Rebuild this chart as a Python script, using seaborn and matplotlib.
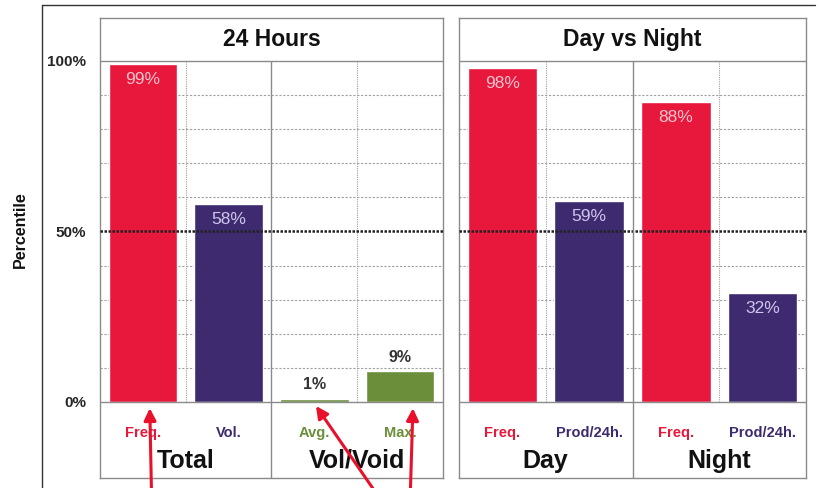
import numpy as np
import pandas as pd
import matplotlib
matplotlib.use("Agg")
import matplotlib.pyplot as plt
import seaborn as sns
from matplotlib.lines import Line2D

# data
left_title = "24 Hours"
left_cats = ["Freq.", "Vol.", "Avg.", "Max."]
left_vals = [99, 58, 1, 9]
left_groups = ["Total", "Vol/Void"]

right_title = "Day vs Night"
right_cats = ["Freq.", "Prod/24h.", "Freq. ", "Prod/24h. "]
right_vals = [98, 59, 88, 32]
right_groups = ["Day", "Night"]

RED = "#E8173C"
PURPLE = "#3E2A6E"
GREEN = "#6B8E3A"
left_colors = [RED, PURPLE, GREEN, GREEN]
right_colors = [RED, PURPLE, RED, PURPLE]

sns.set_style("white")
plt.rcParams["font.family"] = ["Liberation Sans", "DejaVu Sans"]

fig = plt.figure(figsize=(8.2, 4.88), dpi=100)

YMIN, YMAX = -22.3, 112.6
GRID = "#8a8a8a"


def draw_panel(ax, title, cats, vals, colors, groups, show_y):
    df = pd.DataFrame({"cat": cats, "val": vals})
    sns.barplot(data=df, x="cat", y="val", hue="cat", palette=colors,
                width=0.8, ax=ax, legend=False, saturation=1)
    ax.set_xlim(-0.5, 3.5)
    ax.set_ylim(YMIN, YMAX)
    ax.set_xlabel("")
    ax.set_ylabel("")
    ax.set_xticks([])
    # grid
    for g in range(10, 100, 10):
        if g == 50:
            continue
        ax.hlines(g, -0.5, 3.5, colors="#a0a0a0", linestyles=(0, (2, 1.5)),
                  linewidth=0.8, zorder=0)
    ax.hlines(50, -0.5, 3.5, colors="#222222", linestyles=(0, (1, 0.6)),
              linewidth=1.8, zorder=3)
    ax.hlines([0, 100], -0.5, 3.5, colors=GRID, linewidth=1.0, zorder=3)
    ax.vlines([0.5, 2.5], 0, 100, colors="#a0a0a0", linestyles=(0, (1, 1)),
              linewidth=0.8, zorder=0)
    ax.vlines(1.5, YMIN, 100, colors=GRID, linewidth=1.0, zorder=3)
    for s in ax.spines.values():
        s.set_color(GRID)
        s.set_linewidth(1.0)
    # title
    ax.text(1.5, 106.3, title, ha="center", va="center", fontsize=16.5,
            fontweight="bold", color="#111111")
    # values
    for i, (v, c) in enumerate(zip(vals, colors)):
        if c == GREEN:
            ax.text(i, v + 1.8, f"{v}%", ha="center", va="bottom", fontsize=11.5,
                    fontweight="bold", color="#333333")
        else:
            lc = "#F6C4CC" if c == RED else "#CFC6EE"
            ax.text(i, v - 2.3, f"{v}%", ha="center", va="top", fontsize=12.5,
                    color=lc)
    # category labels
    for i, (cat, c) in enumerate(zip(cats, colors)):
        ax.text(i, -9.2, cat.strip(), ha="center", va="center", fontsize=10.5,
                fontweight="bold", color=c)
    for j, g in enumerate(groups):
        ax.text(0.5 + 2 * j, -17.3, g, ha="center", va="center", fontsize=18,
                fontweight="bold", color="#111111")
    if show_y:
        ax.set_yticks([0, 50, 100])
        ax.set_yticklabels(["0%", "50%", "100%"], fontsize=11, fontweight="bold")
        ax.tick_params(axis="y", length=0, pad=10)
    else:
        ax.set_yticks([])


ax1 = fig.add_axes([100 / 820, 10 / 488, 343 / 820, 460 / 488])
ax2 = fig.add_axes([459 / 820, 10 / 488, 347 / 820, 460 / 488])
draw_panel(ax1, left_title, left_cats, left_vals, left_colors, left_groups, True)
draw_panel(ax2, right_title, right_cats, right_vals, right_colors, right_groups, False)

fig.text(20 / 820, 1 - 230 / 488, "Percentile", rotation=90, ha="center",
         va="center", fontsize=11.5, fontweight="bold", color="#111111")

# red arrows
arrows = [(0.08, -1.0, 0.1, -26), (2.0, -0.5, 2.7, -26), (3.15, -1.0, 3.12, -26)]
for hx, hy, tx, ty in arrows:
    ax1.annotate("", xy=(hx, hy), xytext=(tx, ty), annotation_clip=False,
                 arrowprops=dict(arrowstyle="-|>", color="#E8102A", lw=2.2,
                                 mutation_scale=18))

# scan frame
fig.add_artist(Line2D([42 / 820, 815 / 820], [1 - 5 / 488, 1 - 5 / 488],
                      color="#333333", linewidth=1.0))
fig.add_artist(Line2D([42 / 820, 42 / 820], [0, 1 - 5 / 488],
                      color="#333333", linewidth=1.0))

fig.savefig("out.png", dpi=100, facecolor="white")
